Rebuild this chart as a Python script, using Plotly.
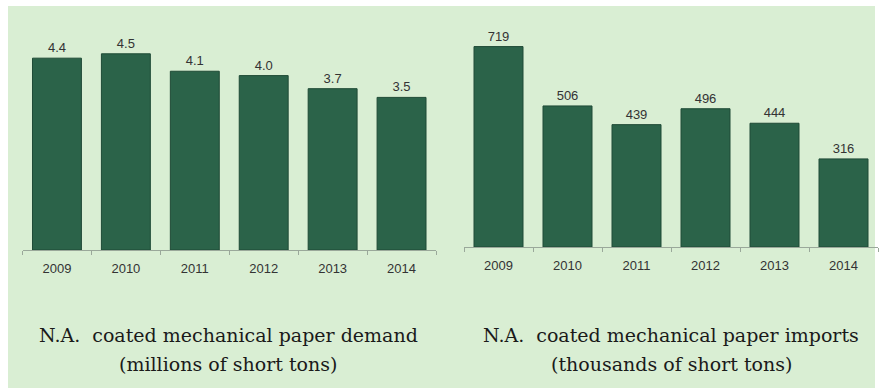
import plotly.graph_objects as go

# Data
years = ["2009", "2010", "2011", "2012", "2013", "2014"]
demand = [4.4, 4.5, 4.1, 4.0, 3.7, 3.5]          # millions of short tons
imports = [719, 506, 439, 496, 444, 316]        # thousands of short tons
demand_labels = ["4.4", "4.5", "4.1", "4.0", "3.7", "3.5"]
imports_labels = ["719", "506", "439", "496", "444", "316"]
title_lines = [
    ("N.A.  coated mechanical paper demand", "(millions of short tons)"),
    ("N.A.  coated mechanical paper imports", "(thousands of short tons)"),
]

W, H = 883, 392
BAR = "#2b6349"
BAR_EDGE = "#1f4a36"
PANEL = "#d9eed3"
TEXT = "#333333"
SANS = "Liberation Sans, Arial"

fig = go.Figure()

fig.add_trace(go.Bar(
    x=years, y=demand, text=demand_labels, textposition="outside",
    textfont=dict(family=SANS, size=13, color=TEXT),
    marker=dict(color=BAR, line=dict(color=BAR_EDGE, width=1)),
    cliponaxis=False, xaxis="x", yaxis="y", hoverinfo="skip",
))
fig.add_trace(go.Bar(
    x=years, y=imports, text=imports_labels, textposition="outside",
    textfont=dict(family=SANS, size=13, color=TEXT),
    marker=dict(color=BAR, line=dict(color=BAR_EDGE, width=1)),
    cliponaxis=False, xaxis="x2", yaxis="y2", hoverinfo="skip",
))

xcommon = dict(
    type="category", showline=True, linecolor="#9aa89a", linewidth=1,
    ticks="outside", tickson="boundaries", ticklen=4, tickcolor="#9aa89a",
    tickfont=dict(family=SANS, size=13, color=TEXT), ticklabelstandoff=6,
    showgrid=False, zeroline=False, fixedrange=True,
)
ycommon = dict(visible=False, showgrid=False, zeroline=False, fixedrange=True)

fig.update_layout(
    width=W, height=H,
    margin=dict(l=0, r=0, t=0, b=0),
    paper_bgcolor="white", plot_bgcolor="rgba(0,0,0,0)",
    showlegend=False, bargap=0.29,
    uniformtext=dict(mode=False),
    xaxis=dict(domain=[22.5 / W, 436 / W], anchor="y", **xcommon),
    xaxis2=dict(domain=[464 / W, 878 / W], anchor="y2", **xcommon),
    yaxis=dict(domain=[(H - 250) / H, (H - 32) / H], range=[0, 5.0], anchor="x", **ycommon),
    yaxis2=dict(domain=[(H - 247) / H, (H - 24) / H], range=[0, 800], anchor="x2", **ycommon),
    shapes=[dict(
        type="rect", xref="paper", yref="paper", layer="below",
        x0=8 / W, x1=875 / W, y0=(H - 388) / H, y1=(H - 6) / H,
        fillcolor=PANEL, line=dict(width=0),
    )],
)

# Two-line captions under each chart
for (line1, line2), cx in zip(title_lines, [228, 671]):
    for text, cy in ((line1, 335), (line2, 364)):
        fig.add_annotation(
            text=text, xref="paper", yref="paper",
            x=cx / W, y=(H - cy) / H, xanchor="center", yanchor="middle",
            showarrow=False, align="center",
            font=dict(family="DejaVu Serif", size=19, color="#1a1a1a"),
        )

fig.write_html("out.html")
